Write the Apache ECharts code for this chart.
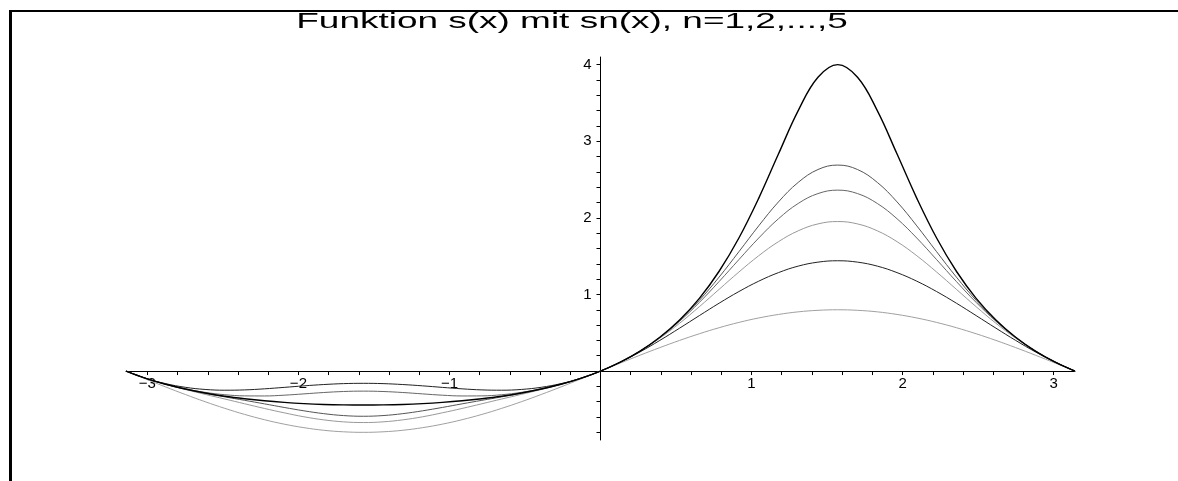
<!DOCTYPE html>
<html>
<head>
<meta charset="utf-8">
<script src="https://cdn.jsdelivr.net/npm/echarts@6/dist/echarts.min.js"></script>
<style>
  html, body { margin: 0; padding: 0; background: #fff; }
  #chart { width: 1178px; height: 481px; }
  /* Rahmen links und oben wie im Maple-Export */
  .frame {
    position: absolute; left: 9px; top: 10px; right: 0; bottom: 0;
    border-left: 3px solid #000; border-top: 2px solid #000;
    pointer-events: none;
  }
</style>
</head>
<body>
<div id="chart"></div>
<div class="frame"></div>
<script>
// x-Stützstellen (Schritt pi/24 von -pi bis pi)
const xs = [
  -3.1416, -3.0107, -2.8798, -2.7489, -2.6180, -2.4871, -2.3562, -2.2253, -2.0944, -1.9635, -1.8326, -1.7017, -1.5708,
  -1.4399, -1.3090, -1.1781, -1.0472, -0.9163, -0.7854, -0.6545, -0.5236, -0.3927, -0.2618, -0.1309, 0,
  0.1309, 0.2618, 0.3927, 0.5236, 0.6545, 0.7854, 0.9163, 1.0472, 1.1781, 1.3090, 1.4399, 1.5708,
  1.7017, 1.8326, 1.9635, 2.0944, 2.2253, 2.3562, 2.4871, 2.6180, 2.7489, 2.8798, 3.0107, 3.1416
];

// s(x) - oberste Kurve
const sValues = [
  0, -0.095, -0.172, -0.234, -0.286, -0.328, -0.361, -0.388, -0.409, -0.425, -0.436, -0.442, -0.444,
  -0.442, -0.436, -0.425, -0.409, -0.388, -0.361, -0.328, -0.286, -0.234, -0.172, -0.095, 0,
  0.117, 0.261, 0.441, 0.667, 0.949, 1.303, 1.737, 2.255, 2.833, 3.400, 3.835, 4.000,
  3.835, 3.400, 2.833, 2.255, 1.737, 1.303, 0.949, 0.667, 0.441, 0.261, 0.117, 0
];
const s1Values = [
  0, -0.104, -0.207, -0.306, -0.400, -0.487, -0.566, -0.635, -0.693, -0.739, -0.773, -0.793, -0.800,
  -0.793, -0.773, -0.739, -0.693, -0.635, -0.566, -0.487, -0.400, -0.306, -0.207, -0.104, 0,
  0.104, 0.207, 0.306, 0.400, 0.487, 0.566, 0.635, 0.693, 0.739, 0.773, 0.793, 0.800,
  0.793, 0.773, 0.739, 0.693, 0.635, 0.566, 0.487, 0.400, 0.306, 0.207, 0.104, 0
];
const s2Values = [
  0, -0.094, -0.164, -0.212, -0.240, -0.250, -0.246, -0.232, -0.213, -0.193, -0.176, -0.164, -0.160,
  -0.164, -0.176, -0.193, -0.213, -0.232, -0.246, -0.250, -0.240, -0.212, -0.164, -0.094, 0,
  0.115, 0.250, 0.400, 0.560, 0.724, 0.886, 1.038, 1.173, 1.285, 1.370, 1.422, 1.440,
  1.422, 1.370, 1.285, 1.173, 1.038, 0.886, 0.724, 0.560, 0.400, 0.250, 0.115, 0
];
const s3Values = [
  0, -0.095, -0.173, -0.241, -0.304, -0.365, -0.427, -0.488, -0.545, -0.597, -0.637, -0.663, -0.672,
  -0.663, -0.637, -0.597, -0.545, -0.488, -0.427, -0.365, -0.304, -0.241, -0.173, -0.095, 0,
  0.117, 0.259, 0.429, 0.624, 0.840, 1.067, 1.293, 1.505, 1.689, 1.831, 1.921, 1.952,
  1.921, 1.831, 1.689, 1.505, 1.293, 1.067, 0.840, 0.624, 0.429, 0.259, 0.117, 0
];
const s4Values = [
  0, -0.095, -0.171, -0.232, -0.278, -0.309, -0.324, -0.325, -0.315, -0.298, -0.280, -0.267, -0.262,
  -0.267, -0.280, -0.298, -0.315, -0.325, -0.324, -0.309, -0.278, -0.232, -0.171, -0.095, 0,
  0.117, 0.261, 0.437, 0.650, 0.896, 1.169, 1.455, 1.736, 1.988, 2.188, 2.317, 2.362,
  2.317, 2.188, 1.988, 1.736, 1.455, 1.169, 0.896, 0.650, 0.437, 0.261, 0.117, 0
];
const s5Values = [
  0, -0.095, -0.172, -0.235, -0.289, -0.337, -0.382, -0.428, -0.475, -0.519, -0.556, -0.581, -0.590,
  -0.581, -0.556, -0.519, -0.475, -0.428, -0.382, -0.337, -0.289, -0.235, -0.172, -0.095, 0,
  0.117, 0.261, 0.440, 0.660, 0.923, 1.227, 1.558, 1.895, 2.208, 2.463, 2.631, 2.689,
  2.631, 2.463, 2.208, 1.895, 1.558, 1.227, 0.923, 0.660, 0.440, 0.261, 0.117, 0
];

// Achsenteilung
const xTickValues = [
  -3, -2.8, -2.6, -2.4, -2.2, -2, -1.8, -1.6, -1.4, -1.2, -1, -0.8, -0.6, -0.4, -0.2, 0,
  0.2, 0.4, 0.6, 0.8, 1, 1.2, 1.4, 1.6, 1.8, 2, 2.2, 2.4, 2.6, 2.8, 3
];
const xLabelValues = [-3, -2, -1, 1, 2, 3];
const yTickValues = [
  -0.8, -0.6, -0.4, -0.2, 0, 0.2, 0.4, 0.6, 0.8, 1, 1.2, 1.4, 1.6, 1.8, 2,
  2.2, 2.4, 2.6, 2.8, 3, 3.2, 3.4, 3.6, 3.8, 4
];
const yLabelValues = [1, 2, 3, 4];

const pair = (vals) => xs.map((x, i) => [x, vals[i]]);

const chartDom = document.getElementById("chart");
const myChart = echarts.init(chartDom, null, { renderer: "canvas" });

const fontFamily = "'Liberation Sans', Arial, Helvetica, sans-serif";
const minus = (v) => (v < 0 ? "\u2212" + Math.abs(v) : String(v));

const gridLeft = 126, gridRight = 103, gridTop = 57, gridBottom = 41;
const xMin = -3.1416, xMax = 3.1416, yMin = -0.9, yMax = 4.1;
// Abstand der Nulllinien vom Gitterrand, damit die Beschriftung an den Achsen sitzt
const plotW = 1178 - gridLeft - gridRight;
const plotH = 481 - gridTop - gridBottom;
const yZeroOffset = (-yMin / (yMax - yMin)) * plotH;
const xZeroOffset = ((0 - xMin) / (xMax - xMin)) * plotW;

const lineSeries = (name, vals, color, width) => ({
  name: name,
  type: "line",
  data: pair(vals),
  xAxisIndex: 0,
  yAxisIndex: 0,
  showSymbol: false,
  symbol: "none",
  smooth: 0.4,
  lineStyle: { color: color, width: width },
  silent: true,
});

const labelStyle = {
  color: "#000",
  fontFamily: fontFamily,
  fontSize: 15,
  formatter: (v) => minus(v),
};

const option = {
  animation: false,
  backgroundColor: "#fff",
  graphic: [
    {
      // Titel, in der Vorlage breit gezogen
      type: "text",
      x: 572,
      y: 22,
      scaleX: 1.68,
      style: {
        text: "Funktion s(x) mit sn(x), n=1,2,...,5",
        fill: "#000",
        font: "22px " + fontFamily,
        textAlign: "center",
        textVerticalAlign: "middle",
      },
    },
  ],
  grid: { left: gridLeft, right: gridRight, top: gridTop, bottom: gridBottom },
  xAxis: [
    {
      type: "value",
      min: xMin,
      max: xMax,
      axisLine: { onZero: true, lineStyle: { color: "#000", width: 1 } },
      axisTick: { show: true, length: 4, customValues: xTickValues, lineStyle: { color: "#000" } },
      axisLabel: { show: false },
      splitLine: { show: false },
    },
    {
      // nur Beschriftung, auf Höhe y=0 verschoben
      type: "value",
      position: "bottom",
      offset: -yZeroOffset,
      min: xMin,
      max: xMax,
      axisLine: { show: false, onZero: false },
      axisTick: { show: false },
      axisLabel: Object.assign({ customValues: xLabelValues, margin: 5 }, labelStyle),
      splitLine: { show: false },
    },
  ],
  yAxis: [
    {
      type: "value",
      min: yMin,
      max: yMax,
      axisLine: { show: true, onZero: true, lineStyle: { color: "#000", width: 1 } },
      axisTick: { show: true, length: 4, customValues: yTickValues, lineStyle: { color: "#000" } },
      axisLabel: { show: false },
      splitLine: { show: false },
    },
    {
      type: "value",
      position: "left",
      offset: -xZeroOffset,
      min: yMin,
      max: yMax,
      axisLine: { show: false, onZero: false },
      axisTick: { show: false },
      axisLabel: Object.assign({ customValues: yLabelValues, margin: 9 }, labelStyle),
      splitLine: { show: false },
    },
  ],
  series: [
    lineSeries("s1", s1Values, "#a0a0a0", 1),
    lineSeries("s3", s3Values, "#999999", 1),
    lineSeries("s4", s4Values, "#666666", 1),
    lineSeries("s5", s5Values, "#555555", 1),
    lineSeries("s2", s2Values, "#222222", 1),
    lineSeries("s", sValues, "#000000", 1.4),
  ],
};

myChart.setOption(option);
window.addEventListener("resize", myChart.resize);
</script>
</body>
</html>
